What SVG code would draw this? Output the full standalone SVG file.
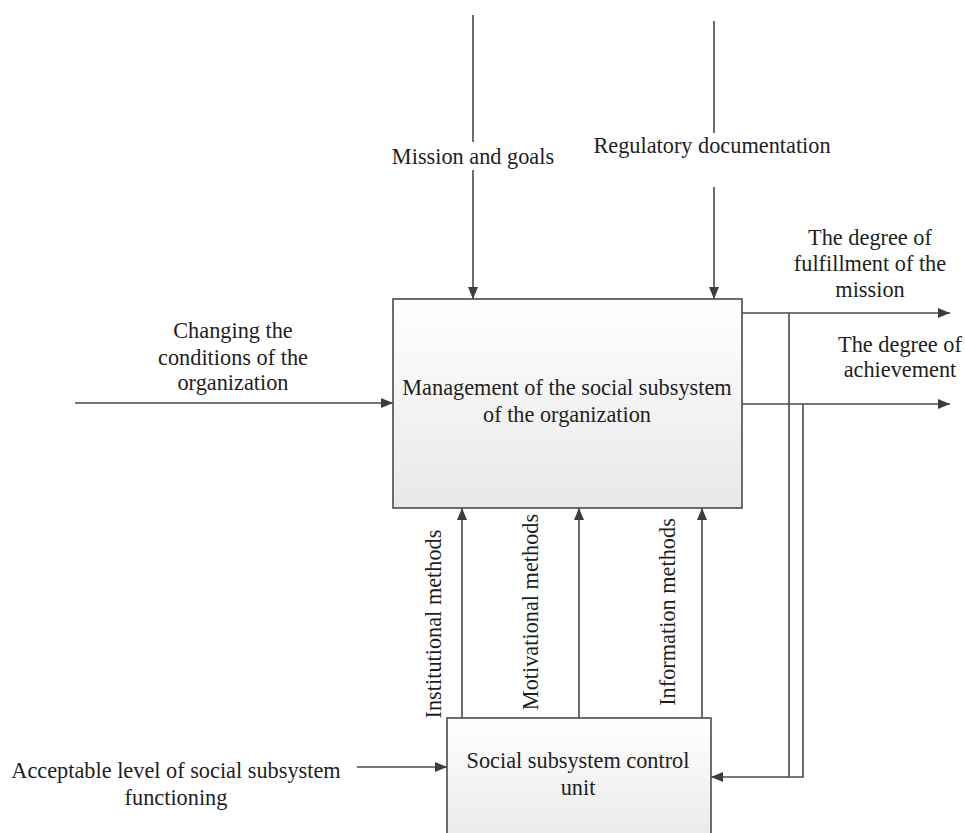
<svg xmlns="http://www.w3.org/2000/svg" width="965" height="833" viewBox="0 0 965 833">
<style>
  text { font-family: "Liberation Serif", "Times New Roman", serif; font-size: 22.3px; fill: #1e1e1e; }
  .c { text-anchor: middle; }
  .box { stroke: #4a4a4a; stroke-width: 1.6; fill: url(#g); }
  .ln { stroke: #4a4a4a; stroke-width: 1.6; fill: none; }
  .ar { marker-end: url(#ah); }
</style>
<defs>
  <linearGradient id="g" x1="0" y1="0" x2="0" y2="1">
    <stop offset="0" stop-color="#ffffff"/>
    <stop offset="1" stop-color="#e8e8e8"/>
  </linearGradient>
  <marker id="ah" markerWidth="12" markerHeight="10" refX="12" refY="5" orient="auto" markerUnits="userSpaceOnUse">
    <path d="M0,0 L12,5 L0,10 Z" fill="#3c3c3c"/>
  </marker>
</defs>
<rect width="965" height="833" fill="#ffffff"/>

<g id="connectors">
  <!-- Mission and goals -->
  <path class="ln" d="M473,15 V142"/>
  <path class="ln ar" d="M473,170 V299"/>
  <!-- Regulatory documentation -->
  <path class="ln" d="M714,21 V133"/>
  <path class="ln ar" d="M714,187 V299"/>
  <!-- Changing the conditions -->
  <path class="ln ar" d="M75,403 H393"/>
  <!-- outputs -->
  <path class="ln ar" d="M742,313 H950"/>
  <path class="ln ar" d="M742,404 H950"/>
  <!-- feedback -->
  <path class="ln" d="M789,313 V777"/>
  <path class="ln ar" d="M803,404 V777 H711"/>
  <!-- mechanisms -->
  <path class="ln ar" d="M462,718 V508"/>
  <path class="ln ar" d="M579,718 V508"/>
  <path class="ln ar" d="M702,718 V508"/>
  <!-- acceptable level -->
  <path class="ln ar" d="M357,767 H447"/>
</g>

<g id="node-management">
  <rect class="box" x="393" y="299" width="349" height="209"/>
  <text class="c" x="567" y="395">Management of the social subsystem</text>
  <text class="c" x="567" y="422">of the organization</text>
</g>

<g id="node-control-unit">
  <rect class="box" x="447" y="718" width="264" height="130"/>
  <text class="c" x="578" y="768">Social subsystem control</text>
  <text class="c" x="578" y="795">unit</text>
</g>

<g id="labels">
  <text class="c" x="473" y="164">Mission and goals</text>
  <text class="c" x="712" y="153">Regulatory documentation</text>
  <text class="c" x="233" y="338">Changing the</text>
  <text class="c" x="233" y="365">conditions of the</text>
  <text class="c" x="233" y="390">organization</text>
  <text class="c" x="870" y="245">The degree of</text>
  <text class="c" x="870" y="271">fulfillment of the</text>
  <text class="c" x="870" y="297">mission</text>
  <text class="c" x="900" y="352">The degree of</text>
  <text class="c" x="900" y="377">achievement</text>
  <text class="c" x="176" y="778">Acceptable level of social subsystem</text>
  <text class="c" x="176" y="805">functioning</text>
  <text class="c" transform="translate(441,624) rotate(-90)">Institutional methods</text>
  <text class="c" transform="translate(538,612) rotate(-90)">Motivational methods</text>
  <text class="c" transform="translate(675,612) rotate(-90)">Information methods</text>
</g>
</svg>
